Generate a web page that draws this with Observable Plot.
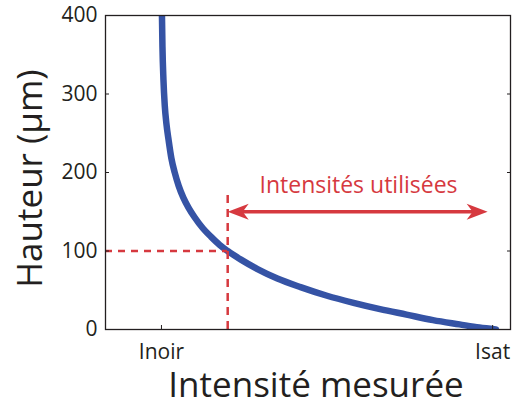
<!DOCTYPE html>
<html><head><meta charset="utf-8">
<script src="https://cdn.jsdelivr.net/npm/d3@7"></script>
<script src="https://cdn.jsdelivr.net/npm/@observablehq/plot@0.6"></script>
<style>body{margin:0;background:#fff;}</style>
</head><body><div id="chart"></div>
<script>
const intensity = [0.0015, 0.003, 0.006, 0.010, 0.015, 0.022, 0.030, 0.040, 0.052, 0.066, 0.082, 0.100, 0.125, 0.150, 0.175, 0.200, 0.240, 0.290, 0.350, 0.420, 0.500, 0.580, 0.660, 0.740, 0.820, 0.900, 0.960, 1.010];
const hauteur   = [400, 360, 318, 285, 262, 240, 218, 200, 183, 168, 155, 143, 129, 118, 108, 100, 89, 77, 65, 54, 43, 34, 26, 19, 12, 6.5, 2.5, 0];
const yTicks = [0, 100, 200, 300, 400];
const xTicks = [0, 1];
const xTickLabels = ["Inoir", "Isat"];
const refHeight = 100;
const refIntensity = 0.2;
const usedRange = [0.2, 0.985];
const arrowHeight = 150;
const annotation = "Intensités utilisées";
const xTitle = "Intensité mesurée";
const yTitle = "Hauteur (µm)";

const curve = intensity.map((x, i) => ({x, y: hauteur[i]}));
const heads = [{x: usedRange[0], y: arrowHeight, r: 180}, {x: usedRange[1], y: arrowHeight, r: 0}];
const blue = "#3553a5", red = "#d6393f", ink = "#231f20";
const xDomain = [-0.169, 1.054];

const arrowHead = {draw(ctx) {
  ctx.moveTo(0, 0); ctx.lineTo(-21, -8); ctx.lineTo(-15, 0); ctx.lineTo(-21, 8); ctx.closePath();
}};

const chart = Plot.plot({
  width: 512, height: 405,
  marginLeft: 105, marginRight: 2, marginTop: 15, marginBottom: 76,
  x: {domain: xDomain},
  y: {domain: [0, 400]},
  style: {fontFamily: "'Open Sans', sans-serif", color: ink, background: "#fff"},
  marks: [
    Plot.line(curve, {x: "x", y: "y", stroke: blue, strokeWidth: 6.5, clip: true, curve: "monotone-x"}),
    Plot.ruleY([refHeight], {x1: xDomain[0], x2: refIntensity, stroke: red, strokeWidth: 2.5, strokeDasharray: "7,6"}),
    Plot.ruleX([refIntensity], {y1: 0, y2: 175, stroke: red, strokeWidth: 2.5, strokeDasharray: "8,6"}),
    Plot.ruleY([arrowHeight], {x1: usedRange[0] + 0.03, x2: usedRange[1] - 0.03, stroke: red, strokeWidth: 3.5}),
    Plot.dot(heads, {x: "x", y: "y", rotate: "r", symbol: arrowHead, fill: red, stroke: "none"}),
    Plot.text([annotation], {x: 0.595, y: 183, fill: red, fontSize: 23}),
    Plot.frame({stroke: ink, strokeWidth: 1.3}),
    Plot.axisY({ticks: yTicks, tickSize: 4, dx: 4, tickFormat: () => "", label: null}),
    Plot.axisY({ticks: yTicks, anchor: "right", tickSize: 4, dx: -4, tickFormat: () => "", label: null}),
    Plot.axisY({ticks: yTicks, tickSize: 0, tickPadding: 8, fontSize: 21, label: null}),
    Plot.axisX({ticks: xTicks, tickSize: 4, dy: -4, tickFormat: () => "", label: null}),
    Plot.axisX({ticks: xTicks, tickSize: 0, tickPadding: 15, fontSize: 21, tickFormat: d => xTickLabels[xTicks.indexOf(d)], label: null}),
    Plot.text([xTitle], {frameAnchor: "bottom", textAnchor: "middle", lineAnchor: "bottom", dy: 67, dx: 8, fontSize: 35}),
    Plot.text([yTitle], {frameAnchor: "left", textAnchor: "middle", lineAnchor: "middle", rotate: -90, dx: -75, dy: 6, fontSize: 35})
  ]
});
document.getElementById("chart").appendChild(chart);
</script>
</body></html>
